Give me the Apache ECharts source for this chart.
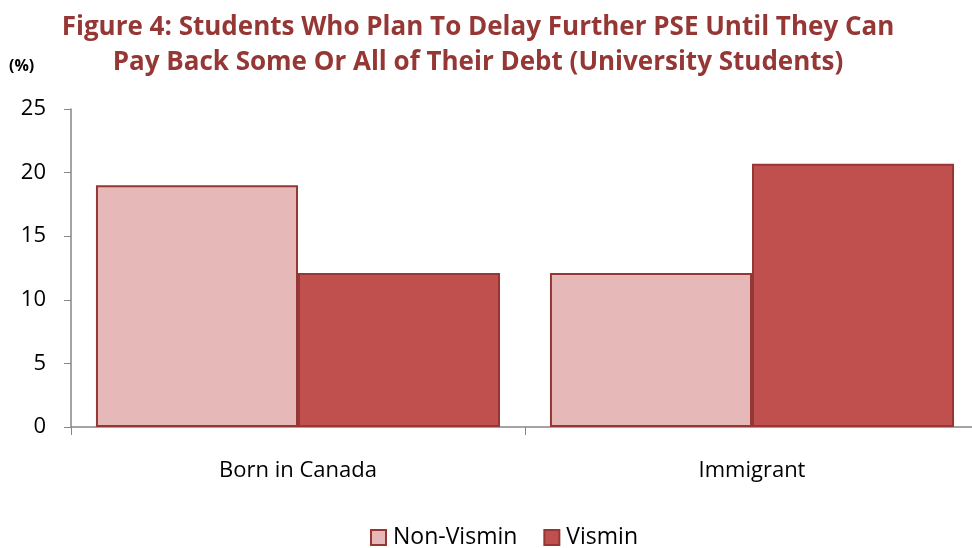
<!DOCTYPE html>
<html><head><meta charset="utf-8">
<script src="https://cdn.jsdelivr.net/npm/echarts@6/dist/echarts.min.js"></script>
<style>html,body{margin:0;padding:0;background:#fff}#c{width:972px;height:548px}</style>
</head><body><div id="c"></div>
<script>
const categories = ["Born in Canada", "Immigrant"];
const nonVismin = [19.0, 12.1];
const vismin = [12.1, 20.7];
const yTicks = [0, 5, 10, 15, 20, 25];

const chart = echarts.init(document.getElementById('c'), null, {renderer: 'canvas'});
const font = "'Open Sans', 'Noto Sans', sans-serif";
chart.setOption({
  animation: false,
  title: {
    text: "Figure 4: Students Who Plan To Delay Further PSE Until They Can\nPay Back Some Or All of Their Debt (University Students)",
    left: 473, top: 5, textAlign: 'center',
    textStyle: {fontFamily: font, fontWeight: 'bold', fontSize: 26, color: '#953735', lineHeight: 35}
  },
  graphic: [{type: 'text', left: 9, top: 58, style: {text: '(%)', font: "bold 16px 'Open Sans', sans-serif", fill: '#000'}}],
  legend: {
    bottom: -6, left: 365, itemWidth: 15, itemHeight: 15, itemGap: 26, icon: 'rect',
    textStyle: {fontFamily: font, fontSize: 23, color: '#000', padding: [0, 0, 0, 2]},
    data: ['Non-Vismin', 'Vismin']
  },
  grid: {left: 71, width: 908, top: 109, bottom: 121, containLabel: false, outerBoundsMode: 'none'},
  xAxis: {
    type: 'category', data: categories,
    axisLine: {lineStyle: {color: '#868686', width: 1.5}},
    axisTick: {show: true, alignWithLabel: false, length: 8, lineStyle: {color: '#868686'}},
    axisLabel: {fontFamily: font, fontSize: 22, color: '#000', margin: 33}
  },
  yAxis: {
    type: 'value', min: 0, max: 25, interval: 5,
    splitLine: {show: false},
    axisLine: {show: true, lineStyle: {color: '#868686', width: 1.5}},
    axisTick: {show: true, length: 7, lineStyle: {color: '#868686'}},
    axisLabel: {fontFamily: font, fontSize: 22, color: '#000', margin: 25,
      formatter: v => yTicks.includes(v) ? String(v) : ''}
  },
  series: [
    {name: 'Non-Vismin', type: 'bar', data: nonVismin, barGap: '0%', barCategoryGap: '11%',
     itemStyle: {color: '#E6B9B8', borderColor: '#953735', borderWidth: 2}},
    {name: 'Vismin', type: 'bar', data: vismin, barGap: '0%', barCategoryGap: '11%',
     itemStyle: {color: '#C0504D', borderColor: '#953735', borderWidth: 2}}
  ]
});
</script></body></html>
